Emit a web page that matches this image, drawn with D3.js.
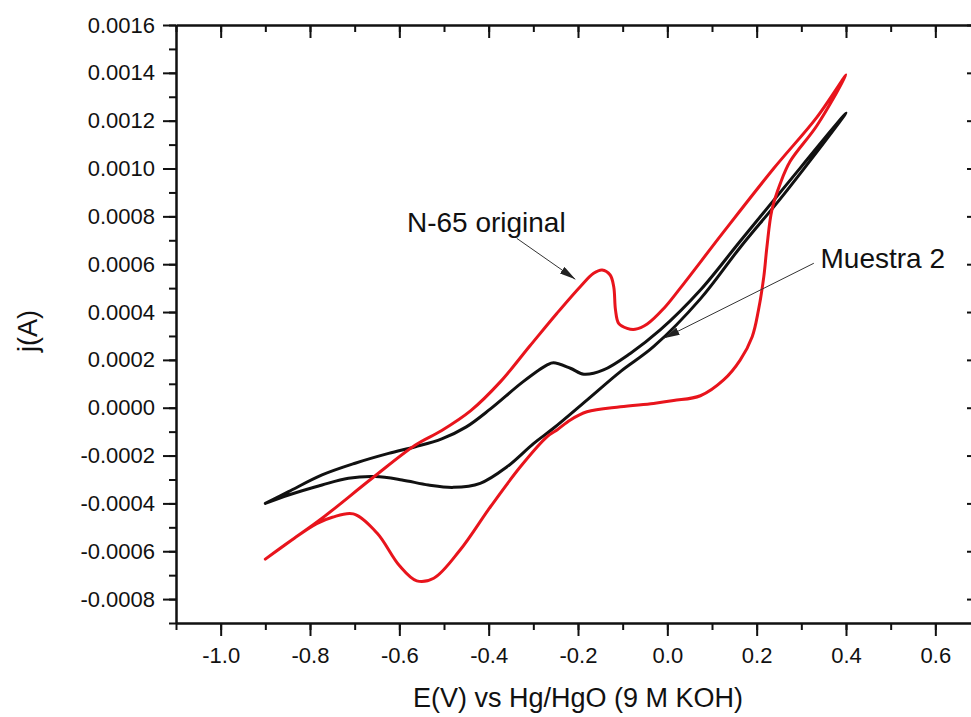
<!DOCTYPE html>
<html lang="es">
<head>
<meta charset="UTF-8">
<title>Voltametria ciclica</title>
<script src="https://d3js.org/d3.v7.min.js"></script>
<style>
  body { margin: 0; background: #fff; }
  text { font-family: "Liberation Sans", Arial, sans-serif; fill: #111; }
</style>
</head>
<body>
<svg id="chart" width="971" height="717"></svg>
<script>
// N-65 original: barrido anodico y luego catodico (E en V, j en A)
var n65E = [-0.900, -0.840, -0.773, -0.661, -0.564, -0.505, -0.440, -0.374, -0.307, -0.247,
            -0.195, -0.165, -0.146, -0.128, -0.120, -0.116, -0.109, -0.090, -0.072, -0.045,
            -0.008, 0.029, 0.126, 0.238, 0.335, 0.400,
            0.335, 0.275, 0.253, 0.234, 0.223, 0.216, 0.204, 0.190, 0.163, 0.126,
            0.074, 0.014, -0.031, -0.105, -0.180, -0.217, -0.247, -0.269, -0.329, -0.396,
            -0.464, -0.523, -0.561, -0.600, -0.650, -0.703, -0.750, -0.785, -0.840, -0.900];
var n65J = [-0.000633, -0.000552, -0.000462, -0.000295, -0.000156, -0.000095, -0.000012, 0.000108, 0.000260, 0.000395,
            0.000506, 0.000562, 0.000576, 0.000555, 0.000506, 0.000408, 0.000353, 0.000332, 0.000328, 0.000350,
            0.000415, 0.000500, 0.000735, 0.001000, 0.001215, 0.001391,
            0.001180, 0.001030, 0.000938, 0.000826, 0.000673, 0.000548, 0.000408, 0.000297, 0.000199, 0.000116,
            0.000050, 0.000030, 0.000018, 0.000004, -0.000017, -0.000051, -0.000093, -0.000121, -0.000247, -0.000414,
            -0.000595, -0.000713, -0.000724, -0.000660, -0.000524, -0.000444, -0.000458, -0.000485, -0.000552, -0.000633];

// Muestra 2
var m2E = [-0.900, -0.848, -0.773, -0.699, -0.624, -0.564, -0.505, -0.450, -0.396,
           -0.322, -0.269, -0.255, -0.217, -0.187, -0.143, -0.083, -0.016, 0.074, 0.163,
           0.260, 0.400,
           0.260, 0.163, 0.074, -0.031, -0.105, -0.180, -0.255, -0.299, -0.359, -0.419,
           -0.479, -0.535, -0.594, -0.654, -0.714, -0.773, -0.848, -0.900];
var m2J = [-0.000400, -0.000351, -0.000281, -0.000232, -0.000191, -0.000163, -0.000130, -0.000080, -0.000005,
           0.000110, 0.000179, 0.000188, 0.000165, 0.000140, 0.000158, 0.000227, 0.000325, 0.000492, 0.000696,
           0.000917, 0.001232,
           0.000890, 0.000670, 0.000455, 0.000255, 0.000151, 0.000032, -0.000086, -0.000149, -0.000247, -0.000316,
           -0.000333, -0.000323, -0.000302, -0.000288, -0.000295, -0.000323, -0.000365, -0.000400];

var xTicks = [-1.0, -0.8, -0.6, -0.4, -0.2, 0.0, 0.2, 0.4, 0.6];
var yTicks = [-0.0008, -0.0006, -0.0004, -0.0002, 0.0000, 0.0002, 0.0004, 0.0006, 0.0008, 0.0010, 0.0012, 0.0014, 0.0016];

var svg = d3.select("#chart");
// ojo: "top" es una global del navegador, por eso plotTop
var plotLeft = 176, plotRight = 980, plotTop = 25, plotBottom = 623;

var x = d3.scaleLinear().domain([-1.1, 0.7]).range([plotLeft, plotRight]);
var y = d3.scaleLinear().domain([-0.0009, 0.0016]).range([plotBottom, plotTop]);

var xMinor = d3.range(-11, 8).map(function(d) { return d / 10; });
var yMinor = d3.range(-9, 17).map(function(d) { return d / 10000; });

function styleAxis(g) {
    g.select(".domain").attr("stroke", "#111").attr("stroke-width", 2);
    g.selectAll(".tick line").attr("stroke", "#111").attr("stroke-width", 2);
}

// minor ticks (sin etiquetas)
svg.append("g").attr("transform", "translate(0," + plotBottom + ")")
    .call(d3.axisBottom(x).tickValues(xMinor).tickSize(7).tickSizeOuter(0).tickFormat(""))
    .call(styleAxis);
svg.append("g").attr("transform", "translate(" + plotLeft + ",0)")
    .call(d3.axisLeft(y).tickValues(yMinor).tickSize(7).tickSizeOuter(0).tickFormat(""))
    .call(styleAxis);
svg.append("g").attr("transform", "translate(0," + plotTop + ")")
    .call(d3.axisBottom(x).tickValues(xMinor).tickSize(7).tickSizeOuter(0).tickFormat(""))
    .call(styleAxis);
svg.append("g").attr("transform", "translate(" + plotRight + ",0)")
    .call(d3.axisLeft(y).tickValues(yMinor).tickSize(7).tickSizeOuter(0).tickFormat(""))
    .call(styleAxis);

// major ticks
var xAxis = svg.append("g").attr("transform", "translate(0," + plotBottom + ")")
    .call(d3.axisBottom(x).tickValues(xTicks).tickSize(13).tickSizeOuter(0).tickPadding(11)
        .tickFormat(function(d) { return d.toFixed(1); }))
    .call(styleAxis);
var yAxis = svg.append("g").attr("transform", "translate(" + plotLeft + ",0)")
    .call(d3.axisLeft(y).tickValues(yTicks).tickSize(13).tickSizeOuter(0).tickPadding(8)
        .tickFormat(function(d) { return d.toFixed(4); }))
    .call(styleAxis);
svg.append("g").attr("transform", "translate(0," + plotTop + ")")
    .call(d3.axisBottom(x).tickValues(xTicks).tickSize(13).tickSizeOuter(0).tickFormat(""))
    .call(styleAxis);
svg.append("g").attr("transform", "translate(" + plotRight + ",0)")
    .call(d3.axisLeft(y).tickValues(yTicks).tickSize(13).tickSizeOuter(0).tickFormat(""))
    .call(styleAxis);

xAxis.selectAll("text").style("font-size", "22px").style("font-family", "Liberation Sans, Arial").attr("fill", "#111");
yAxis.selectAll("text").style("font-size", "22px").style("font-family", "Liberation Sans, Arial").attr("fill", "#111");

// curvas
var line = d3.line()
    .x(function(d) { return x(d[0]); })
    .y(function(d) { return y(d[1]); })
    .curve(d3.curveCatmullRom.alpha(0.5));

svg.append("path")
    .datum(d3.zip(m2E, m2J))
    .attr("d", line)
    .attr("fill", "none")
    .attr("stroke", "#111")
    .attr("stroke-width", 3)
    .attr("stroke-linejoin", "round")
    .attr("stroke-linecap", "round");

svg.append("path")
    .datum(d3.zip(n65E, n65J))
    .attr("d", line)
    .attr("fill", "none")
    .attr("stroke", "#e8141c")
    .attr("stroke-width", 3)
    .attr("stroke-linejoin", "round")
    .attr("stroke-linecap", "round");

// titulos de ejes
svg.append("text")
    .attr("x", (plotLeft + plotRight) / 2)
    .attr("y", 707)
    .attr("text-anchor", "middle")
    .style("font-size", "27px")
    .text("E(V) vs Hg/HgO (9 M KOH)");

svg.append("text")
    .attr("transform", "translate(37,331) rotate(-90)")
    .attr("text-anchor", "middle")
    .style("font-size", "27px")
    .text("j(A)");

// flechas de anotacion
svg.append("defs").append("marker")
    .attr("id", "head")
    .attr("viewBox", "0 0 16 8")
    .attr("refX", 16).attr("refY", 4)
    .attr("markerUnits", "userSpaceOnUse")
    .attr("markerWidth", 16).attr("markerHeight", 8)
    .attr("orient", "auto")
    .append("path")
    .attr("d", "M0,0 L16,4 L0,8 Z")
    .attr("fill", "#222");

var notes = [
    { label: "N-65 original", tx: -0.583, ty: 0.000736, x1: -0.337, y1: 0.000708, x2: -0.206, y2: 0.000537 },
    { label: "Muestra 2", tx: 0.343, ty: 0.000583, x1: 0.328, y1: 0.000604, x2: -0.008, y2: 0.000290 }
];

notes.forEach(function(n) {
    svg.append("line")
        .attr("x1", x(n.x1)).attr("y1", y(n.y1))
        .attr("x2", x(n.x2)).attr("y2", y(n.y2))
        .attr("stroke", "#333")
        .attr("stroke-width", 1)
        .attr("marker-end", "url(#head)");
    svg.append("text")
        .attr("x", x(n.tx))
        .attr("y", y(n.ty))
        .style("font-size", "28px")
        .text(n.label);
});
</script>
</body>
</html>
